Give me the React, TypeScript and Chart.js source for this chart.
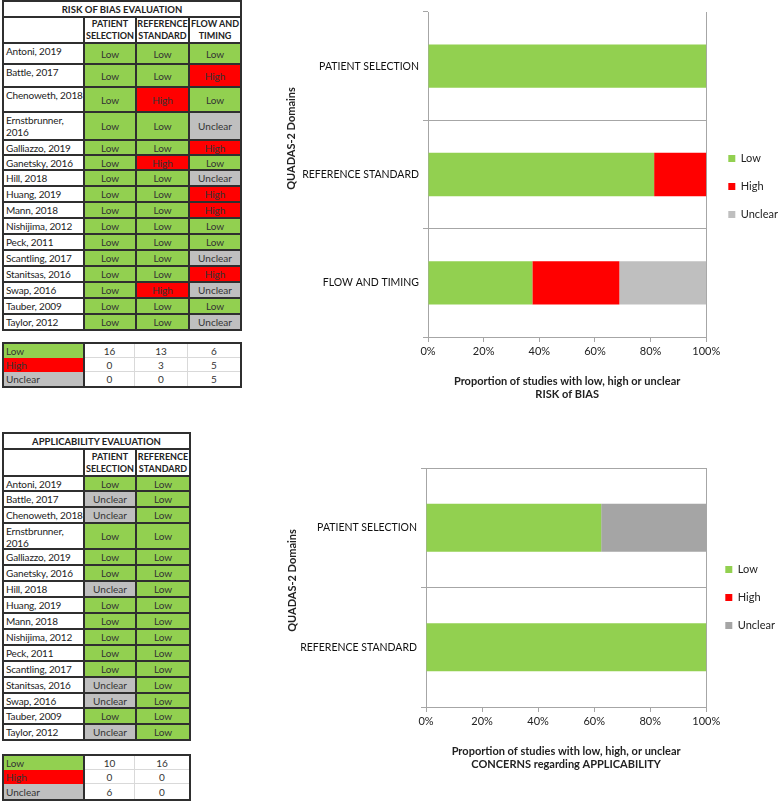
import React, { useEffect, useRef } from 'react';
import { Chart, registerables } from 'chart.js';

Chart.register(...registerables);

// ---------- DATA ----------
const studies = [
  'Antoni, 2019', 'Battle, 2017', 'Chenoweth, 2018', 'Ernstbrunner, 2016', 'Galliazzo, 2019',
  'Ganetsky, 2016', 'Hill, 2018', 'Huang, 2019', 'Mann, 2018', 'Nishijima, 2012', 'Peck, 2011',
  'Scantling, 2017', 'Stanitsas, 2016', 'Swap, 2016', 'Tauber, 2009', 'Taylor, 2012',
];

const biasHeaders = ['PATIENT SELECTION', 'REFERENCE STANDARD', 'FLOW AND TIMING'];
const biasPatientSelection = ['Low', 'Low', 'Low', 'Low', 'Low', 'Low', 'Low', 'Low', 'Low', 'Low', 'Low', 'Low', 'Low', 'Low', 'Low', 'Low'];
const biasReferenceStandard = ['Low', 'Low', 'High', 'Low', 'Low', 'High', 'Low', 'Low', 'Low', 'Low', 'Low', 'Low', 'Low', 'High', 'Low', 'Low'];
const biasFlowTiming = ['Low', 'High', 'Low', 'Unclear', 'High', 'Low', 'Unclear', 'High', 'High', 'Low', 'Low', 'Unclear', 'High', 'Unclear', 'Low', 'Unclear'];

const applHeaders = ['PATIENT SELECTION', 'REFERENCE STANDARD'];
const applPatientSelection = ['Low', 'Unclear', 'Unclear', 'Low', 'Low', 'Low', 'Unclear', 'Low', 'Low', 'Low', 'Low', 'Low', 'Unclear', 'Unclear', 'Low', 'Unclear'];
const applReferenceStandard = ['Low', 'Low', 'Low', 'Low', 'Low', 'Low', 'Low', 'Low', 'Low', 'Low', 'Low', 'Low', 'Low', 'Low', 'Low', 'Low'];

const biasCountLow = [16, 13, 6];
const biasCountHigh = [0, 3, 5];
const biasCountUnclear = [0, 0, 5];
const applCountLow = [10, 16];
const applCountHigh = [0, 0];
const applCountUnclear = [6, 0];

const biasDomains = ['PATIENT SELECTION', 'REFERENCE STANDARD', 'FLOW AND TIMING'];
const biasLowPct = [100, 81.25, 37.5];
const biasHighPct = [0, 18.75, 31.25];
const biasUnclearPct = [0, 0, 31.25];

const applDomains = ['PATIENT SELECTION', 'REFERENCE STANDARD'];
const applLowPct = [62.5, 100];
const applHighPct = [0, 0];
const applUnclearPct = [37.5, 0];

const xTickValues = [0, 20, 40, 60, 80, 100];

// ---------- STYLE ----------
const FONT = 'Lato, "Open Sans", sans-serif';
const GREEN = '#92D050';
const RED = '#FF0000';
const GRAY = '#BFBFBF';
const GRAY2 = '#A5A5A5';
const LINE = '#A6A6A6';
const BORDER = '#2f2f2f';
const COLORS: Record<string, string> = { Low: GREEN, High: RED, Unclear: GRAY };

const center: React.CSSProperties = { display: 'flex', alignItems: 'center', justifyContent: 'center' };

function splitHeader(h: string) {
  const i = h.lastIndexOf(' ');
  return h.slice(0, i) + '\n' + h.slice(i + 1);
}

function RatingTable(props: {
  top: number; title: string; headers: string[]; columns: string[][];
  colTracks: number[]; titleTrack: number; headerTrack: number; rowTracks: number[];
}) {
  const { top, title, headers, columns, colTracks, titleTrack, headerTrack, rowTracks } = props;
  const cells: React.ReactNode[] = [];
  cells.push(
    <div key="t" style={{ gridColumn: `1 / span ${colTracks.length}`, background: '#fff', ...center, fontWeight: 700, fontSize: 9.5, color: '#222' }}>{title}</div>
  );
  cells.push(<div key="h0" style={{ background: '#fff' }} />);
  headers.forEach((h, i) =>
    cells.push(
      <div key={'h' + i} style={{ background: '#fff', ...center, fontWeight: 700, fontSize: 9, lineHeight: '12px', whiteSpace: 'pre', textAlign: 'center', color: '#222' }}>{splitHeader(h)}</div>
    )
  );
  studies.forEach((s, r) => {
    cells.push(
      <div key={'n' + r} style={{ background: '#fff', fontSize: 10, lineHeight: '12px', padding: '1px 0 0 2px', letterSpacing: '-0.15px', color: '#222', overflow: 'hidden' }}>{s}</div>
    );
    columns.forEach((col, c) => {
      const v = col[r];
      cells.push(
        <div key={`c${r}_${c}`} style={{ background: COLORS[v], ...center, fontSize: 10, color: '#333' }}>{v}</div>
      );
    });
  });
  return (
    <div style={{
      position: 'absolute', left: 2, top, display: 'grid',
      gridTemplateColumns: colTracks.map((w) => w + 'px').join(' '),
      gridTemplateRows: [titleTrack, headerTrack, ...rowTracks].map((h) => h + 'px').join(' '),
      gap: 2, padding: 2, background: BORDER,
    }}>{cells}</div>
  );
}

function SummaryTable(props: { top: number; colTracks: number[]; rowTracks: number[]; low: number[]; high: number[]; unclear: number[] }) {
  const { top, colTracks, rowTracks, low, high, unclear } = props;
  const rows = [
    { label: 'Low', values: low },
    { label: 'High', values: high },
    { label: 'Unclear', values: unclear },
  ];
  const cells: React.ReactNode[] = [];
  rows.forEach((row, r) => {
    cells.push(
      <div key={'l' + r} style={{ background: COLORS[row.label], borderRight: `2px solid ${BORDER}`, fontSize: 10, padding: '0 0 0 2px', display: 'flex', alignItems: 'center', color: '#333' }}>{row.label}</div>
    );
    row.values.forEach((v, c) => {
      cells.push(
        <div key={`v${r}_${c}`} style={{
          background: '#fff', ...center, fontSize: 10, color: '#333',
          borderRight: c < row.values.length - 1 ? '1px solid #D9D9D9' : 'none',
          borderBottom: r < rows.length - 1 ? '1px solid #D9D9D9' : 'none',
        }}>{v}</div>
      );
    });
  });
  return (
    <div style={{
      position: 'absolute', left: 2, top, display: 'grid',
      gridTemplateColumns: colTracks.map((w) => w + 'px').join(' '),
      gridTemplateRows: rowTracks.map((h) => h + 'px').join(' '),
      border: `2px solid ${BORDER}`, background: '#fff',
    }}>{cells}</div>
  );
}

// ---------- CHART PLUGINS ----------
const legendShift = {
  id: 'legendShift',
  afterLayout(chart: any, _args: any, opts: any) {
    const l = chart.legend;
    if (!l) return;
    const dx = opts.dx || 0;
    const dy = opts.dy || 0;
    l.left += dx; l.right += dx; l.top += dy; l.bottom += dy;
  },
};

const yTitle = {
  id: 'yTitle',
  afterDraw(chart: any, _args: any, opts: any) {
    const { ctx, chartArea } = chart;
    ctx.save();
    ctx.translate(chartArea.left - opts.dx, (chartArea.top + chartArea.bottom) / 2 + (opts.dy || 0));
    ctx.rotate(-Math.PI / 2);
    ctx.font = `bold 11px ${FONT}`;
    ctx.fillStyle = '#222';
    ctx.textAlign = 'center';
    ctx.textBaseline = 'middle';
    ctx.fillText(opts.text, 0, 0);
    ctx.restore();
  },
};

type ChartProps = {
  left: number; top: number; width: number; height: number;
  labels: string[]; low: number[]; high: number[]; unclear: number[]; unclearColor: string;
  xTitle: string[]; padTop: number; yWidth: number; xHeight: number; titlePadBottom: number;
  topLine: boolean; legendDx: number; legendDy: number; yTitleDx: number; yTitleDy: number;
};

function StackedBarChart(p: ChartProps) {
  const ref = useRef<HTMLCanvasElement | null>(null);
  useEffect(() => {
    if (!ref.current) return;
    const barOpts = { borderWidth: 0, categoryPercentage: 1, barPercentage: 0.4 };
    const chart = new Chart(ref.current, {
      type: 'bar',
      data: {
        labels: p.labels,
        datasets: [
          { label: 'Low', data: p.low, backgroundColor: GREEN, ...barOpts },
          { label: 'High', data: p.high, backgroundColor: RED, ...barOpts },
          { label: 'Unclear', data: p.unclear, backgroundColor: p.unclearColor, ...barOpts },
        ],
      },
      options: {
        indexAxis: 'y',
        responsive: false,
        maintainAspectRatio: false,
        animation: false,
        layout: { padding: { top: p.padTop, right: 0, bottom: 0, left: 0 } },
        scales: {
          x: {
            stacked: true,
            min: 0,
            max: 100,
            afterBuildTicks: (scale: any) => {
              scale.ticks = xTickValues.map((v) => ({ value: v }));
            },
            ticks: {
              callback: (v: any) => v + '%',
              color: '#222',
              font: { family: FONT, size: 11 },
              padding: 3,
              maxRotation: 0,
            },
            grid: {
              color: (c: any) => (c.tick && c.tick.value === 100 ? LINE : 'transparent'),
              tickColor: LINE,
              tickLength: 5,
              drawTicks: true,
            },
            border: { color: LINE },
            title: {
              display: true,
              text: p.xTitle,
              color: '#222',
              font: { family: FONT, size: 11, weight: 'bold', lineHeight: 1.2 },
              padding: { top: 0, bottom: p.titlePadBottom },
            },
            afterFit: (s: any) => { s.height = p.xHeight; },
          },
          y: {
            stacked: true,
            offset: true,
            ticks: { color: '#111', font: { family: FONT, size: 10.5 }, padding: 4 },
            grid: {
              offset: true,
              color: (c: any) => (c.index === 0 && !p.topLine ? 'transparent' : LINE),
              tickColor: LINE,
              tickLength: 5,
            },
            border: { color: LINE },
            afterFit: (s: any) => { s.width = p.yWidth; },
          },
        },
        plugins: {
          legend: {
            position: 'right',
            labels: {
              boxWidth: 7,
              boxHeight: 7,
              padding: 17,
              color: '#222',
              font: { family: FONT, size: 11 },
            },
          },
          tooltip: { enabled: false },
          legendShift: { dx: p.legendDx, dy: p.legendDy },
          yTitle: { text: 'QUADAS-2 Domains', dx: p.yTitleDx, dy: p.yTitleDy },
        } as any,
      },
      plugins: [legendShift, yTitle],
    } as any);
    return () => chart.destroy();
  }, []);
  return (
    <canvas
      ref={ref}
      width={p.width}
      height={p.height}
      style={{ position: 'absolute', left: p.left, top: p.top, width: p.width, height: p.height, display: 'block' }}
    />
  );
}

export default function App() {
  return (
    <div style={{ position: 'absolute', left: 0, top: 0, width: 783, height: 803, background: '#fff', fontFamily: FONT, overflow: 'hidden' }}>
      <RatingTable
        top={0}
        title="RISK OF BIAS EVALUATION"
        headers={biasHeaders}
        columns={[biasPatientSelection, biasReferenceStandard, biasFlowTiming]}
        colTracks={[79, 50, 51, 50]}
        titleTrack={14}
        headerTrack={24}
        rowTracks={[19, 21, 23, 26, 13, 13, 14, 14, 14, 14, 14, 14, 14, 14, 14, 14]}
      />
      <SummaryTable
        top={342}
        colTracks={[81, 50, 53, 52]}
        rowTracks={[14, 14, 14]}
        low={biasCountLow}
        high={biasCountHigh}
        unclear={biasCountUnclear}
      />
      <RatingTable
        top={432}
        title="APPLICABILITY EVALUATION"
        headers={applHeaders}
        columns={[applPatientSelection, applReferenceStandard]}
        colTracks={[79, 50, 52]}
        titleTrack={14}
        headerTrack={25}
        rowTracks={[13, 14, 14, 24, 14, 14, 14, 14, 14, 14, 14, 14, 14, 13, 14, 14]}
      />
      <SummaryTable
        top={754}
        colTracks={[81, 50, 54]}
        rowTracks={[14, 14, 15]}
        low={applCountLow}
        high={applCountHigh}
        unclear={applCountUnclear}
      />
      <StackedBarChart
        left={255} top={0} width={528} height={403}
        labels={biasDomains} low={biasLowPct} high={biasHighPct} unclear={biasUnclearPct} unclearColor={GRAY}
        xTitle={['Proportion of studies with low, high or unclear', 'RISK of BIAS']}
        padTop={12} yWidth={173} xHeight={66} titlePadBottom={2}
        topLine={false} legendDx={5} legendDy={-21} yTitleDx={137} yTitleDy={-36}
      />
      <StackedBarChart
        left={255} top={403} width={528} height={400}
        labels={applDomains} low={applLowPct} high={applHighPct} unclear={applUnclearPct} unclearColor={GRAY2}
        xTitle={['Proportion of studies with low, high, or unclear', 'CONCERNS regarding APPLICABILITY']}
        padTop={65} yWidth={171} xHeight={96} titlePadBottom={32}
        topLine={true} legendDx={2} legendDy={-38} yTitleDx={134} yTitleDy={-7}
      />
    </div>
  );
}
